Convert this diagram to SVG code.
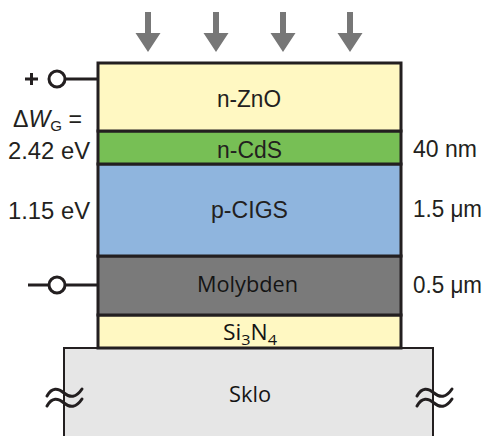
<svg xmlns="http://www.w3.org/2000/svg" width="485" height="436" viewBox="0 0 485 436">
<style>
.lbl{font-family:"Liberation Sans",Arial,sans-serif;font-size:23px;fill:#231f20}
.lbl2{font-family:"Open Sans","Liberation Sans",sans-serif;font-size:21px;fill:#141414}
.layer{stroke:#231f20;stroke-width:3}
.arr{fill:#777}
.wire{stroke:#231f20;stroke-width:3;fill:none}
.term{stroke:#231f20;stroke-width:3;fill:#fff}
.sq{stroke:#231f20;stroke-width:3;fill:none;stroke-linecap:round}
</style>
<rect width="485" height="436" fill="#fff"/>
<g id="glass">
<path d="M64,436 V348 H433 V436" fill="#e6e6e6" stroke="#231f20" stroke-width="2"/>
<text class="lbl2" x="229" y="402" textLength="42" lengthAdjust="spacingAndGlyphs" fill="#1c2236">Sklo</text>
<path class="sq" d="M47,396 c5,-9 11,-8 17,-3 s12,5 18,-4 M47,406 c5,-9 11,-8 17,-3 s12,5 18,-4"/>
<path class="sq" d="M417,396 c5,-9 11,-8 17,-3 s12,5 18,-4 M417,406 c5,-9 11,-8 17,-3 s12,5 18,-4"/>
</g>
<g id="si3n4">
<rect class="layer" x="98" y="315" width="303" height="33" fill="#fff8c2"/>
<text class="lbl2" x="223" y="340" textLength="54" lengthAdjust="spacingAndGlyphs">Si<tspan font-size="15" dy="5">3</tspan><tspan dy="-5">N</tspan><tspan font-size="15" dy="5">4</tspan></text>
</g>
<g id="molybden">
<rect class="layer" x="98" y="256" width="303" height="59" fill="#7a7a7a"/>
<text class="lbl2" x="197" y="292" textLength="101" lengthAdjust="spacingAndGlyphs">Molybden</text>
</g>
<g id="cigs">
<rect class="layer" x="98" y="164" width="303" height="92" fill="#8fb5de"/>
<text class="lbl" x="211" y="218" textLength="77" lengthAdjust="spacingAndGlyphs">p-CIGS</text>
</g>
<g id="cds">
<rect class="layer" x="98" y="131" width="303" height="33" fill="#77bf55"/>
<text class="lbl" x="217" y="158" textLength="65" lengthAdjust="spacingAndGlyphs">n-CdS</text>
</g>
<g id="zno">
<rect class="layer" x="98" y="63" width="303" height="68" fill="#fff8c2"/>
<text class="lbl" x="217" y="107" textLength="64" lengthAdjust="spacingAndGlyphs">n-ZnO</text>
</g>
<g id="arrows">
<path class="arr" d="M145,12 h6 v21 h9.5 l-12.5,19 l-12.5,-19 h9.5 z"/>
<path class="arr" d="M213,12 h6 v21 h9.5 l-12.5,19 l-12.5,-19 h9.5 z"/>
<path class="arr" d="M280,12 h6 v21 h9.5 l-12.5,19 l-12.5,-19 h9.5 z"/>
<path class="arr" d="M347,12 h6 v21 h9.5 l-12.5,19 l-12.5,-19 h9.5 z"/>
</g>
<g id="terminals">
<line class="wire" x1="65" y1="79" x2="98" y2="79"/>
<circle class="term" cx="57" cy="79" r="8"/>
<path d="M25,79 h13 M31.5,73 v12" stroke="#231f20" stroke-width="3"/>
<line class="wire" x1="65" y1="285" x2="98" y2="285"/>
<circle class="term" cx="57" cy="285" r="8"/>
<line class="wire" x1="28" y1="285" x2="49" y2="285"/>
</g>
<g id="labels">
<text class="lbl" x="13" y="127" textLength="69" lengthAdjust="spacingAndGlyphs">Δ<tspan font-style="italic">W</tspan><tspan font-size="15" dy="4">G</tspan><tspan dy="-4"> =</tspan></text>
<text class="lbl" x="8" y="159" textLength="82" lengthAdjust="spacingAndGlyphs">2.42 eV</text>
<text class="lbl" x="8" y="219" textLength="82" lengthAdjust="spacingAndGlyphs">1.15 eV</text>
<text class="lbl" x="413" y="157" textLength="64" lengthAdjust="spacingAndGlyphs">40 nm</text>
<text class="lbl" x="413" y="217" textLength="69" lengthAdjust="spacingAndGlyphs">1.5 μm</text>
<text class="lbl" x="413" y="293" textLength="69" lengthAdjust="spacingAndGlyphs">0.5 μm</text>
</g>
</svg>
